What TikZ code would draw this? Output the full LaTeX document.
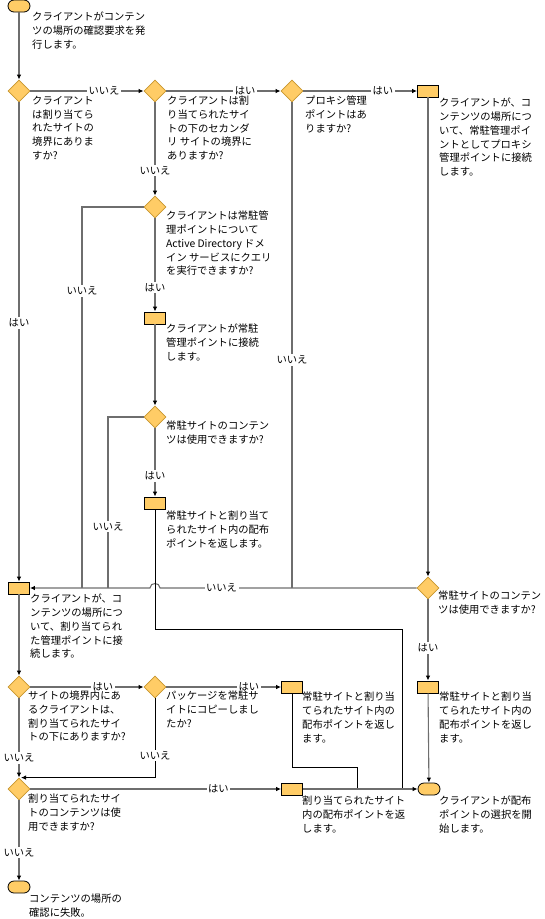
\documentclass[tikz,border=0pt]{standalone}
\usepackage{fontspec}
\setmainfont{Noto Sans CJK JP}
\usetikzlibrary{shapes.geometric,arrows.meta}
\definecolor{flowfill}{HTML}{FFCC66}
\definecolor{flowedge}{HTML}{C8962E}
\definecolor{linegray}{HTML}{6E6E6E}

\begin{document}
\begin{tikzpicture}[x=1pt,y=-1pt,
  font=\fontsize{10.3}{13.7}\selectfont,
  decision/.style={diamond,aspect=1,minimum size=22pt,inner sep=0pt,fill=flowfill,draw=flowedge,line width=.8pt},
  process/.style={rectangle,minimum width=21pt,minimum height=12pt,inner sep=0pt,fill=flowfill,draw=black,line width=.8pt},
  terminal/.style={rectangle,rounded corners=6pt,minimum width=22pt,minimum height=12pt,inner sep=0pt,fill=flowfill,draw=black,line width=.8pt},
  txt/.style={anchor=north west,inner sep=0pt,align=left},
  lbl/.style={fill=white,inner sep=1.5pt},
  conn/.style={draw=linegray,line width=1.1pt},
  link/.style={draw=black,line width=.8pt},
  tip/.style={-{Latex[length=5pt,width=4.5pt,color=black]}}]
\useasboundingbox (0,0) rectangle (545,919);

% shapes
\node[terminal] (start) at (19,6) {};
\node[decision] (d1) at (19,91) {};
\node[decision] (d2) at (155,91) {};
\node[decision] (d3) at (292,91) {};
\node[process] (b1) at (428,91) {};
\node[decision] (d4) at (155,207) {};
\node[process] (b2) at (155,318) {};
\node[decision] (d5) at (155,417) {};
\node[process] (b3) at (155,503) {};
\node[process] (b4) at (19,588) {};
\node[decision] (d6) at (428,588) {};
\node[decision] (d7) at (19,687) {};
\node[decision] (d8) at (155,687) {};
\node[process] (b5) at (292,687) {};
\node[process] (b6) at (428,687) {};
\node[decision] (d9) at (19,789) {};
\node[process] (b7) at (292,789) {};
\node[terminal] (fin) at (429,789) {};
\node[terminal] (fail) at (19,887) {};

% junctions
\coordinate (j3) at (292,588);
\coordinate (j4) at (82,588);
\coordinate (j5) at (108,588);
\coordinate (hopR) at (160,588);
\coordinate (hopL) at (150,588);
\coordinate (c3) at (402,629);
\coordinate (j6) at (402,789);
\coordinate (c5) at (292,767);
\coordinate (j7) at (357,789);

% connectors
\draw[conn,tip] (start) -- (d1);
\draw[conn,tip] (d1) -- node[lbl,pos=.65]{いいえ} (d2);
\draw[conn,tip] (d2) -- node[lbl,pos=.69]{はい} (d3);
\draw[conn,tip] (d3) -- node[lbl,pos=.7]{はい} (b1);
\draw[conn,tip] (d2) -- node[lbl,pos=.73]{いいえ} (d4);
\draw[conn,tip] (d4) -- node[lbl,pos=.74]{はい} (b2);
\draw[conn,tip] (b2) -- (d5);
\draw[conn,tip] (d5) -- node[lbl,pos=.7]{はい} (b3);
\draw[conn,tip] (d1) -- node[lbl,pos=.46]{はい} (b4);
\draw[conn] (d4) -| node[lbl,pos=.61]{いいえ} (j4);
\draw[conn] (d5) -| node[lbl,pos=.82]{いいえ} (j5);
\draw[conn] (d3) -- node[lbl,pos=.53]{いいえ} (j3);
\draw[conn,tip] (b1) -- (d6);
\draw[conn,tip] (d6) -- node[lbl,pos=.76]{いいえ} (hopR) .. controls (160,582) and (150,582) .. (hopL) -- (b4);
\draw[link] (b3) |- (c3) -- (j6);
\draw[conn,tip] (d6) -- node[lbl,pos=.6]{はい} (b6);
\draw[conn,tip] (b6) -- (fin);
\draw[conn,tip] (b4) -- (d7);
\draw[conn,tip] (d7) -- node[lbl,pos=.64]{はい} (d8);
\draw[conn,tip] (d8) -- node[lbl,pos=.72]{はい} (b5);
\draw[link] (b5) -- (c5) -| (j7);
\draw[link,tip,shorten >=2pt] (d8) |- node[lbl,pos=.36]{いいえ} (d9.north);
\draw[conn,tip] (d7) -- node[lbl,pos=.75]{いいえ} (d9);
\draw[conn,tip] (d9) -- node[lbl,pos=.75]{はい} (b7);
\draw[conn,tip] (b7) -- (fin);
\draw[conn,tip] (d9) -- node[lbl,pos=.65]{いいえ} (fail);

% texts
\node[txt] (t0) at (32,12) {クライアントがコンテン\\ツの場所の確認要求を発\\行します。};
\node[txt] (t1) at (32,96) {クライアント\\は割り当てら\\れたサイトの\\境界にありま\\すか?};
\node[txt] (t2) at (167,96) {クライアントは割\\り当てられたサイ\\トの下のセカンダ\\リ サイトの境界に\\ありますか?};
\node[txt] (t3) at (305,96) {プロキシ管理\\ポイントはあ\\りますか?};
\node[txt] (tb1) at (439,98) {クライアントが、コ\\ンテンツの場所につ\\いて、常駐管理ポイ\\ントとしてプロキシ\\管理ポイントに接続\\します。};
\node[txt] (t4) at (166,211) {クライアントは常駐管\\理ポイントについて\\Active Directory ドメ\\イン サービスにクエリ\\を実行できますか?};
\node[txt] (tb2) at (166,324) {クライアントが常駐\\管理ポイントに接続\\します。};
\node[txt] (t5) at (166,421) {常駐サイトのコンテン\\ツは使用できますか?};
\node[txt] (tb3) at (166,511) {常駐サイトと割り当て\\られたサイト内の配布\\ポイントを返します。};
\node[txt] (tb4) at (30,594) {クライアントが、コ\\ンテンツの場所につ\\いて、割り当てられ\\た管理ポイントに接\\続します。};
\node[txt] (t6) at (438,591) {常駐サイトのコンテン\\ツは使用できますか?};
\node[txt] (t7) at (28,691) {サイトの境界内にあ\\るクライアントは、\\割り当てられたサイ\\トの下にありますか?};
\node[txt] (t8) at (166,691) {パッケージを常駐サ\\イトにコピーしまし\\たか?};
\node[txt] (tb5) at (302,692) {常駐サイトと割り当\\てられたサイト内の\\配布ポイントを返し\\ます。};
\node[txt] (tb6) at (439,692) {常駐サイトと割り当\\てられたサイト内の\\配布ポイントを返し\\ます。};
\node[txt] (t9) at (28,794) {割り当てられたサイ\\トのコンテンツは使\\用できますか?};
\node[txt] (tb7) at (302,796) {割り当てられたサイト\\内の配布ポイントを返\\します。};
\node[txt] (tfin) at (439,796) {クライアントが配布\\ポイントの選択を開\\始します。};
\node[txt] (tfail) at (29,894) {コンテンツの場所の\\確認に失敗。};
\end{tikzpicture}
\end{document}
